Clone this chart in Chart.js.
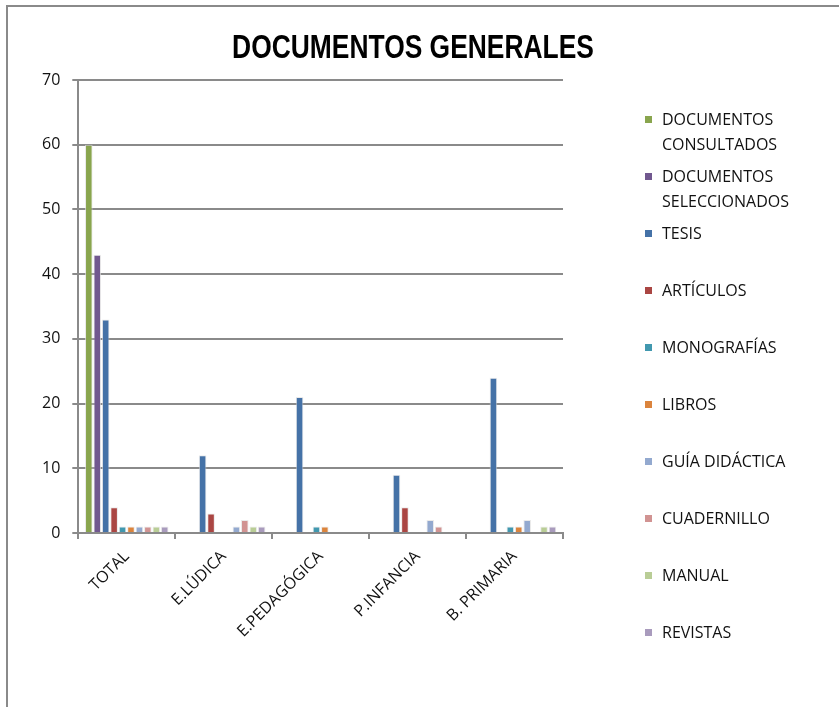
<!DOCTYPE html>
<html>
<head>
<meta charset="utf-8">
<script src="https://cdn.jsdelivr.net/npm/chart.js@4.4.1/dist/chart.umd.min.js"></script>
<style>
  html, body { margin: 0; padding: 0; background: #fff; }
  #wrap { position: relative; width: 839px; height: 707px; overflow: hidden; }
  #frame {
    position: absolute; left: 6px; top: 5px; width: 900px; height: 800px;
    border-top: 2px solid #8a8a8a; border-left: 2px solid #8a8a8a;
  }
  #title {
    position: absolute; left: 0; width: 826px; top: 28px; text-align: center;
    font-family: 'Liberation Sans', sans-serif;
    font-weight: bold; font-size: 33px; color: #000;
    transform: scaleX(0.8); transform-origin: 413px 0;
  }
  #legend { position: absolute; left: 645px; top: 108px; }
  .item { height: 57px; display: flex; align-items: flex-start; }
  .box { width: 7px; height: 7px; margin-top: 8px; margin-right: 10px; flex: none; }
  .txt {
    font-family: 'Open Sans', sans-serif; font-size: 16px; line-height: 25px;
    color: #111; width: 160px; margin-top: -1px;
  }
  canvas { position: absolute; left: 0; top: 0; }
</style>
</head>
<body>
<div id="wrap">
  <div id="frame"></div>
  <canvas id="chart" width="839" height="707"></canvas>
  <div id="title">DOCUMENTOS GENERALES</div>
  <div id="legend"></div>
</div>
<script>
// Categories and series
const categories = ['TOTAL', 'E.LÚDICA', 'E.PEDAGÓGICA', 'P.INFANCIA', 'B. PRIMARIA'];

const consultados    = [60, 0, 0, 0, 0];
const seleccionados  = [43, 0, 0, 0, 0];
const tesis          = [33, 12, 21, 9, 24];
const articulos      = [4, 3, 0, 4, 0];
const monografias    = [1, 0, 1, 0, 1];
const libros         = [1, 0, 1, 0, 1];
const guiaDidactica  = [1, 1, 0, 2, 2];
const cuadernillo    = [1, 2, 0, 1, 0];
const manual         = [1, 1, 0, 0, 1];
const revistas       = [1, 1, 0, 0, 1];

const yTicks = [0, 10, 20, 30, 40, 50, 60, 70];

const series = [
    { name: 'DOCUMENTOS CONSULTADOS', data: consultados, color: '#89A54E' },
    { name: 'DOCUMENTOS SELECCIONADOS', data: seleccionados, color: '#71588F' },
    { name: 'TESIS', data: tesis, color: '#4572A7' },
    { name: 'ARTÍCULOS', data: articulos, color: '#AA4643' },
    { name: 'MONOGRAFÍAS', data: monografias, color: '#4198AF' },
    { name: 'LIBROS', data: libros, color: '#DB843D' },
    { name: 'GUÍA DIDÁCTICA', data: guiaDidactica, color: '#93A9CF' },
    { name: 'CUADERNILLO', data: cuadernillo, color: '#D19392' },
    { name: 'MANUAL', data: manual, color: '#B9CD96' },
    { name: 'REVISTAS', data: revistas, color: '#A99BBD' }
];

// HTML legend
function initLegend() {
    const legend = document.getElementById('legend');
    let html = '';
    series.forEach(s => {
        html += `
            <div class="item">
                <span class="box" style="background:${s.color}"></span>
                <span class="txt">${s.name}</span>
            </div>`;
    });
    legend.innerHTML = html;
}

function initChart() {
    const ctx = document.getElementById('chart').getContext('2d');
    const gridColor = '#8a8a8a';
    const font = { family: "'Open Sans', sans-serif", size: 16 };

    new Chart(ctx, {
        type: 'bar',
        data: {
            labels: categories,
            datasets: series.map(s => ({
                label: s.name,
                data: s.data,
                backgroundColor: s.color,
                borderColor: 'rgba(225,225,225,0.7)',
                borderWidth: 1,
                barPercentage: 0.9,
                categoryPercentage: 0.87
            }))
        },
        options: {
            responsive: false,
            animation: false,
            layout: { padding: { left: 30, right: 276, top: 80, bottom: 58 } },
            plugins: {
                legend: { display: false },
                title: { display: false },
                tooltip: { enabled: false }
            },
            scales: {
                x: {
                    grid: {
                        color: gridColor, lineWidth: 2, offset: true,
                        drawOnChartArea: false, drawTicks: true, tickLength: 6
                    },
                    border: { color: gridColor, width: 2 },
                    ticks: { color: '#111', font: font, minRotation: 45, maxRotation: 45, padding: 8 }
                },
                y: {
                    min: 0,
                    max: 70,
                    afterBuildTicks: axis => { axis.ticks = yTicks.map(v => ({ value: v })); },
                    grid: { color: gridColor, lineWidth: 2, drawTicks: true, tickLength: 6 },
                    border: { color: gridColor, width: 2 },
                    ticks: { color: '#111', font: font, padding: 12 }
                }
            }
        }
    });
}

initLegend();
initChart();
</script>
</body>
</html>
